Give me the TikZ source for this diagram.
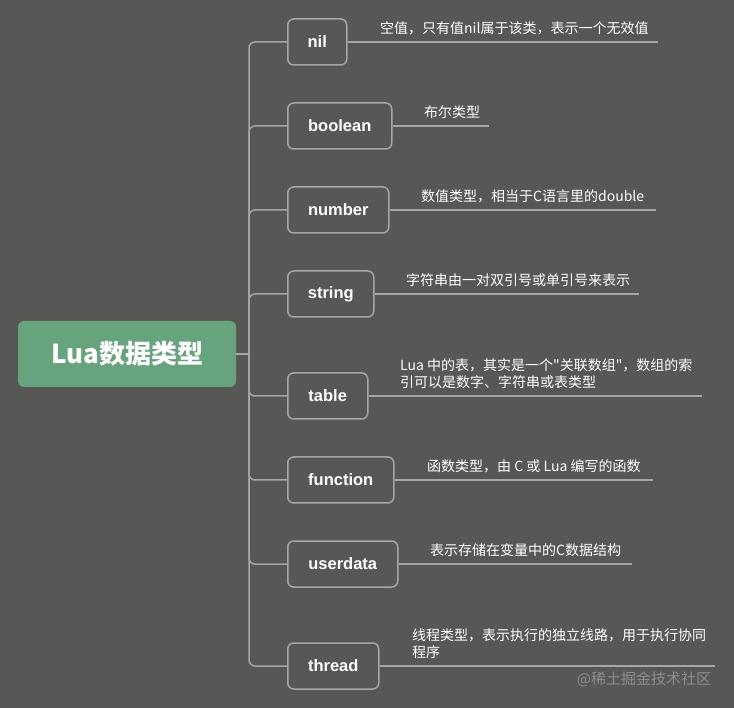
\documentclass[tikz,border=0pt]{standalone}
\usepackage{fontspec}
\setmainfont{Noto Sans CJK SC}[Ligatures=TeXOff]
\newfontfamily\labfont{Liberation Sans}
\usetikzlibrary{positioning}
\definecolor{bgcol}{HTML}{575856}
\definecolor{rootcol}{HTML}{67A37C}
\definecolor{linecol}{HTML}{A6A6A4}
\definecolor{wmcol}{HTML}{8E8E8C}

\begin{document}
\begin{tikzpicture}[x=1pt,y=-1pt,
  root/.style={fill=rootcol,rounded corners=6pt,minimum width=218pt,
               minimum height=66pt,text=white,inner sep=0pt,
               font=\fontsize{26}{30}\selectfont\bfseries},
  typ/.style={draw=linecol,line width=1.5pt,rounded corners=6pt,
              minimum height=46pt,inner sep=0pt,anchor=west,text=white,
              font=\labfont\fontsize{16.5}{20}\selectfont\bfseries},
  desc/.style={text=white,inner sep=0pt,anchor=south west,align=left,
               font=\fontsize{14}{17}\selectfont},
  link/.style={draw=linecol,line width=1.5pt},
  wm/.style={text=wmcol,font=\fontsize{15}{18}\selectfont},
]
\fill[bgcol] (0,0) rectangle (734,708);
\useasboundingbox (0,0) rectangle (734,708);

% ---------- root ----------
\node[root] (lua) at (127,354) {Lua数据类型};
\coordinate (hub) at (249,354);
\draw[link] (lua.east) -- (hub);

% ---------- types ----------
\foreach \nm/\y/\w/\dx/\ex/\txt in {
  nil/42/59/380/658/{空值，只有值nil属于该类，表示一个无效值},
  boolean/126/104/424/489/{布尔类型},
  number/210/101/421/656/{数值类型，相当于C语言里的double},
  string/294/86/406/639/{字符串由一对双引号或单引号来表示},
  table/396/80/400/702/{Lua 中的表，其实是一个"关联数组"，数组的索\\引可以是数字、字符串或表类型},
  function/480/106/427/653/{函数类型，由 C 或 Lua 编写的函数},
  userdata/564/110/430/632/{表示存储在变量中的C数据结构},
  thread/666/91/412/715/{线程类型，表示执行的独立线路，用于执行协同\\程序}} {
  \node[typ,minimum width=\w pt] (\nm) at (287,\y) {\nm};
  \draw[link,rounded corners=6pt] (hub) |- (\nm.west);
  \coordinate (e-\nm) at (\ex,\y);
  \draw[link] (\nm.east) -- (e-\nm);
  \node[desc] (d-\nm) at (\dx,\y-7) {\txt};
}

\node[wm] (mark) at (644,679) {@稀土掘金技术社区};
\end{tikzpicture}
\end{document}
